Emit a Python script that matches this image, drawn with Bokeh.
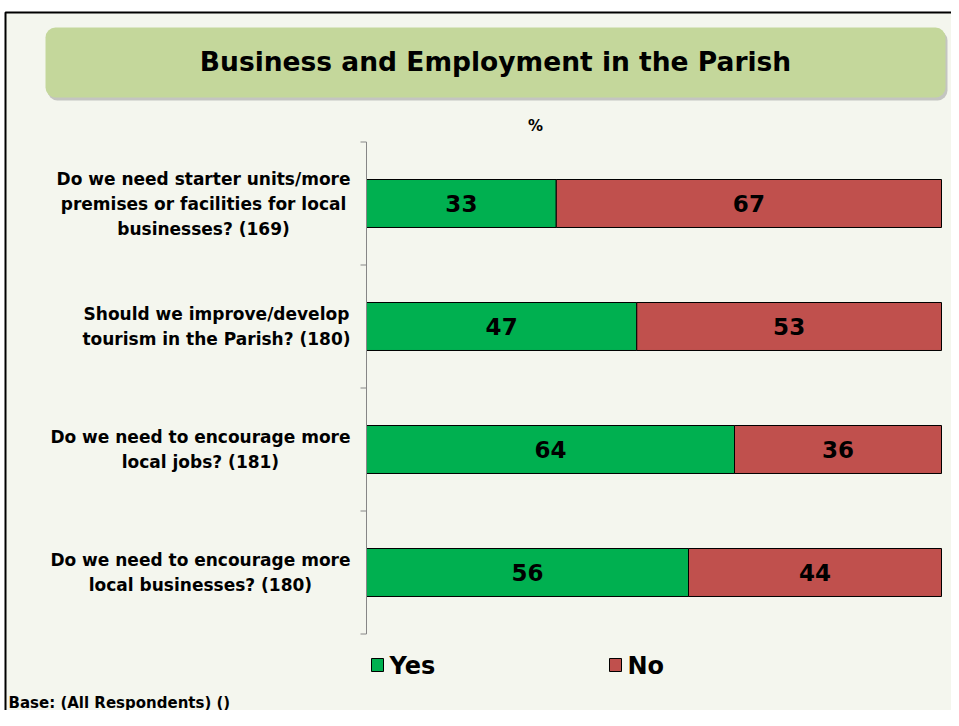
from bokeh.plotting import figure
from bokeh.models import Range1d, ColumnDataSource, BoxAnnotation
from bokeh.core.properties import value
from bokeh.embed import file_html
from bokeh.resources import INLINE

# ---- data ----
categories = [
    "Do we need starter units/more\npremises or facilities for local\nbusinesses? (169)",
    "Should we improve/develop\ntourism in the Parish? (180)",
    "Do we need to encourage more\nlocal jobs? (181)",
    "Do we need to encourage more\nlocal businesses? (180)",
]
yes_pct = [33, 47, 64, 56]
no_pct = [67, 53, 36, 44]
series_names = ["Yes", "No"]
series_colors = ["#00B050", "#C0504D"]
title_text = "Business and Employment in the Parish"
unit_text = "%"
base_text = "Base: (All Respondents) ()"

# ---- layout (pixels) ----
W, H = 951, 710
PX0, PX100 = 366, 941          # pixel position of 0% and 100%
BAND0, BAND = 203, 123         # pixel centre of first category, band height
scale = (PX100 - PX0) / 100.0
FONT = value("DejaVu Sans")

p = figure(width=W, height=H, output_backend="svg", toolbar_location=None,
           x_range=Range1d(-PX0 / scale, (W - PX0) / scale),
           y_range=Range1d((H - BAND0) / BAND, -BAND0 / BAND),
           x_axis_location=None, y_axis_location=None,
           min_border=0, min_border_left=0, min_border_right=0,
           min_border_top=0, min_border_bottom=0)
p.extra_x_ranges = {"px": Range1d(0, W)}
p.extra_y_ranges = {"px": Range1d(H, 0)}
p.grid.visible = False
p.outline_line_color = None
p.background_fill_color = "white"
p.border_fill_color = "white"

# panel background with border
p.quad(left=[5], right=[W + 30], top=[12], bottom=[H + 30], fill_color="#F4F6EE",
       line_color="black", line_width=2, x_range_name="px", y_range_name="px",
       level="underlay")

# title box (shadow + box)
shadow = BoxAnnotation(left=47, right=947, top=30, bottom=100, fill_color="#8A8A8A",
                       fill_alpha=0.45, line_color=None, border_radius=10,
                       x_range_name="px", y_range_name="px", level="underlay")
box = BoxAnnotation(left=45, right=945, top=27, bottom=97, fill_color="#C4D79B",
                    fill_alpha=1.0, line_color=None, border_radius=10,
                    x_range_name="px", y_range_name="px", level="underlay")
p.add_layout(shadow)
p.add_layout(box)
p.text(x=[495], y=[61], text=[title_text], text_font=FONT, text_font_style="bold",
       text_font_size="26.5px", text_align="center", text_baseline="middle",
       text_color="black", x_range_name="px", y_range_name="px")

# "%" label
p.text(x=[535], y=[125], text=[unit_text], text_font=FONT, text_font_style="bold",
       text_font_size="15px", text_align="center", text_baseline="middle",
       text_color="black", x_range_name="px", y_range_name="px")

# ---- bars ----
n = len(categories)
idx = list(range(n))
src = ColumnDataSource(dict(
    idx=idx, cat=categories, yes=yes_pct, no=no_pct,
    no_end=[a + b for a, b in zip(yes_pct, no_pct)],
    yes_mid=[a / 2 for a in yes_pct],
    no_mid=[a + b / 2 for a, b in zip(yes_pct, no_pct)],
    yes_lbl=[str(a) for a in yes_pct],
    no_lbl=[str(b) for b in no_pct],
))
p.hbar(y="idx", left=0, right="yes", height=0.39, fill_color=series_colors[0],
       line_color="black", line_width=1, source=src)
p.hbar(y="idx", left="yes", right="no_end", height=0.39, fill_color=series_colors[1],
       line_color="black", line_width=1, source=src)
p.text(x="yes_mid", y="idx", text="yes_lbl", text_font=FONT, text_font_style="bold",
       text_font_size="23px", text_align="center", text_baseline="middle",
       text_color="black", source=src)
p.text(x="no_mid", y="idx", text="no_lbl", text_font=FONT, text_font_style="bold",
       text_font_size="23px", text_align="center", text_baseline="middle",
       text_color="black", source=src)

# ---- category axis ----
edges = [i - 0.5 for i in range(n + 1)]
p.segment(x0=[0], y0=[edges[0]], x1=[0], y1=[edges[-1]], line_color="#868686", line_width=1)
p.segment(x0=[PX0 - 6] * len(edges), y0=edges, x1=[PX0] * len(edges), y1=edges,
          line_color="#868686", line_width=1, x_range_name="px")
p.text(x=[PX0 - 16] * n, y=idx, text=categories, text_font=FONT, text_font_style="bold",
       text_font_size="17px", text_align="center", anchor="center_right",
       text_baseline="middle", text_line_height=1.25, text_color="black",
       x_range_name="px")

# ---- legend ----
leg_x = [371, 609]
p.quad(left=leg_x, right=[x + 12 for x in leg_x], top=[658, 658], bottom=[671, 671],
       fill_color=series_colors, line_color="black", line_width=1,
       x_range_name="px", y_range_name="px")
p.text(x=[x + 18 for x in leg_x], y=[665, 665], text=series_names, text_font=FONT,
       text_font_style="bold", text_font_size="24px", text_align="left",
       text_baseline="middle", text_color="black", x_range_name="px", y_range_name="px")

# base note
p.text(x=[8], y=[702], text=[base_text], text_font=FONT, text_font_style="bold",
       text_font_size="15px", text_align="left", text_baseline="middle",
       text_color="black", x_range_name="px", y_range_name="px")

open("out.html", "w").write(file_html(p, INLINE))
